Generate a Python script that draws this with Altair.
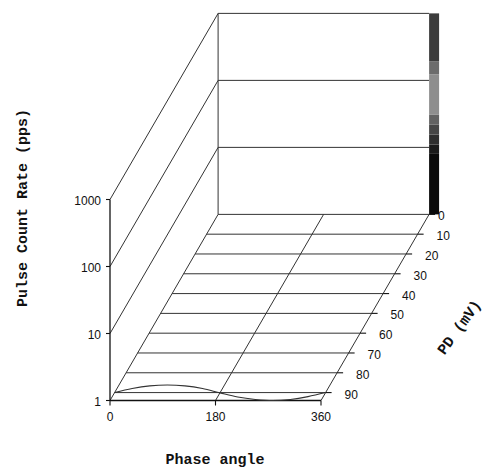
import math
import altair as alt
import pandas as pd

# ---- data -------------------------------------------------------------
phase_ticks = [0, 180, 360]                      # phase angle (deg)
count_ticks = [1, 10, 100, 1000]                 # pulse count rate (pps), log axis
pd_ticks = [0, 10, 20, 30, 40, 50, 60, 70, 80, 90]  # PD level (mV)

# measured trace at PD = 90 mV
trace_pd = 90
trace_phase = [0, 30, 60, 90, 120, 150, 180, 210, 240, 270, 300, 330, 360]
trace_count = [1.0, 1.15, 1.26, 1.30, 1.26, 1.15, 0.99, 0.86, 0.79, 0.76, 0.79, 0.87, 1.0]

# colour bar of the back wall: band edges in pps and grey level of each band
cbar_edges = [1, 8, 11, 15.5, 22, 31, 123, 192, 1000]
cbar_grey = ["#0a0a0a", "#1a1a1a", "#2e2e2e", "#464646", "#626262",
             "#8e8e8e", "#6c6c6c", "#3c3c3c"]

# ---- oblique projection ------------------------------------------------
PD_FRONT = 94          # depth of the front plane (mV)
PX_DEG = 211 / 360     # horizontal units per degree of phase
PX_DEC = 67            # vertical units per decade of count
DX, DY = 1.15, 1.98    # shift per mV of depth


def proj(phase, pd_mv, count):
    depth = PD_FRONT - pd_mv
    return (phase * PX_DEG + depth * DX,
            math.log10(count) * PX_DEC + depth * DY)


xs = alt.Scale(domain=[-110, 377], nice=False, zero=False)
ys = alt.Scale(domain=[-69.5, 400.5], nice=False, zero=False)

segs = []


def seg(a, b, w=1.0, c="#333333"):
    x0, y0 = proj(*a)
    x1, y1 = proj(*b)
    segs.append(dict(x0=x0, y0=y0, x1=x1, y1=y1, w=w, c=c))


top = count_ticks[-1]
pmax = phase_ticks[-1]
# left wall (phase 0)
for c in count_ticks:
    seg((0, PD_FRONT, c), (0, 0, c))
seg((0, 0, 1), (0, 0, top))
# back wall (PD 0)
for c in count_ticks[1:]:
    seg((0, 0, c), (pmax, 0, c))
# floor
for p in pd_ticks:
    seg((0, p, 1), (pmax, p, 1))
for ph in phase_ticks[1:]:
    seg((ph, PD_FRONT, 1), (ph, 0, 1))
# front axes
seg((0, PD_FRONT, 1), (0, PD_FRONT, top), 1.3, "#111111")
seg((0, PD_FRONT, 1), (pmax, PD_FRONT, 1), 1.3, "#111111")

lines = pd.DataFrame(segs)

# tick marks
ticks = []
for c in count_ticks:
    x, y = proj(0, PD_FRONT, c)
    ticks.append(dict(x0=x - 4, y0=y, x1=x, y1=y))
for ph in phase_ticks:
    x, y = proj(ph, PD_FRONT, 1)
    ticks.append(dict(x0=x, y0=y, x1=x, y1=y - 5))
for p in pd_ticks:
    x, y = proj(pmax, p, 1)
    ticks.append(dict(x0=x, y0=y, x1=x + 6, y1=y))
ticks = pd.DataFrame(ticks)

rule_enc = dict(
    x=alt.X("x0:Q", scale=xs, axis=None),
    y=alt.Y("y0:Q", scale=ys, axis=None),
    x2="x1:Q", y2="y1:Q",
)
grid = alt.Chart(lines).mark_rule().encode(
    **rule_enc,
    strokeWidth=alt.StrokeWidth("w:Q", scale=None),
    color=alt.Color("c:N", scale=None),
)
tick_layer = alt.Chart(ticks).mark_rule(color="#111111", strokeWidth=1.1).encode(**rule_enc)

# colour bar cells
cells = []
for lo, hi, g in zip(cbar_edges[:-1], cbar_edges[1:], cbar_grey):
    x0, y0 = proj(pmax, 0, lo)
    _, y1 = proj(pmax, 0, hi)
    cells.append(dict(x0=x0, x1=x0 + 10, y0=y0, y1=y1, g=g))
cbar = alt.Chart(pd.DataFrame(cells)).mark_rect().encode(
    x=alt.X("x0:Q", scale=xs, axis=None), x2="x1:Q",
    y=alt.Y("y0:Q", scale=ys, axis=None), y2="y1:Q",
    color=alt.Color("g:N", scale=None),
)

# trace
tr = []
for i, (ph, c) in enumerate(zip(trace_phase, trace_count)):
    x, y = proj(ph, trace_pd, c)
    tr.append(dict(x=x, y=y, i=i))
trace = alt.Chart(pd.DataFrame(tr)).mark_line(
    color="#333333", strokeWidth=1.1, interpolate="monotone"
).encode(
    x=alt.X("x:Q", scale=xs, axis=None),
    y=alt.Y("y:Q", scale=ys, axis=None),
    order="i:Q",
)

# tick labels
lab_font = dict(font="Liberation Sans", fontSize=12, color="#111111")
left_lab = pd.DataFrame(
    [dict(x=proj(0, PD_FRONT, c)[0], y=proj(0, PD_FRONT, c)[1], t=str(c)) for c in count_ticks]
)
bot_lab = pd.DataFrame(
    [dict(x=proj(ph, PD_FRONT, 1)[0], y=proj(ph, PD_FRONT, 1)[1], t=str(ph)) for ph in phase_ticks]
)
pd_lab = pd.DataFrame(
    [dict(x=proj(pmax, p, 1)[0] + (10 if p else 0), y=proj(pmax, p, 1)[1], t=str(p)) for p in pd_ticks]
)


def labels(df, **kw):
    return alt.Chart(df).mark_text(**lab_font, **kw).encode(
        x=alt.X("x:Q", scale=xs, axis=None),
        y=alt.Y("y:Q", scale=ys, axis=None),
        text="t:N",
    )


lab_left = labels(left_lab, align="right", baseline="middle", dx=-9, dy=1)
lab_bot = labels(bot_lab, align="center", baseline="middle", dy=16)
lab_pd = labels(pd_lab, align="left", baseline="middle", dx=9, dy=2)

# axis titles
title_font = dict(font="Liberation Mono", fontWeight="bold", fontSize=15, color="#111111")


def title(text, x, y, angle=0):
    return alt.Chart(pd.DataFrame({"t": [text]})).mark_text(
        **title_font, angle=angle, align="center", baseline="middle"
    ).encode(x=alt.value(x), y=alt.value(y), text="t:N")


t_y = title("Pulse Count Rate (pps)", 22, 208, 270)
t_x = title("Phase angle", 215, 459)
t_pd = title("PD (mV)", 459, 327, 306)

chart = alt.layer(
    grid, cbar, tick_layer, trace, lab_left, lab_bot, lab_pd, t_y, t_x, t_pd
).properties(
    width=487, height=470, autosize="none", padding=0
).configure_view(stroke=None)

chart.save("out.html", embed_options={"renderer": "svg", "actions": False})
